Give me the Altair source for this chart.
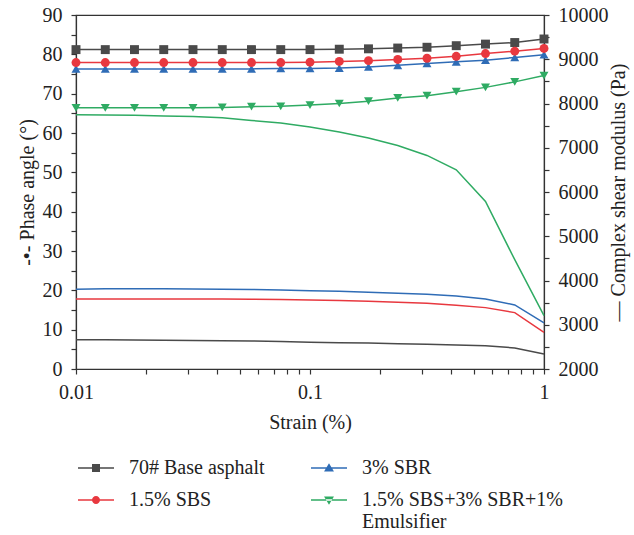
import altair as alt
import pandas as pd

# ---- data ----
strain = [0.01, 0.01334, 0.01778, 0.02371, 0.03162, 0.04217, 0.05623, 0.07499,
          0.1, 0.1334, 0.1778, 0.2371, 0.3162, 0.4217, 0.5623, 0.7499, 1.0]

series = ["70# Base asphalt", "3% SBR", "1.5% SBS", "1.5% SBS+3% SBR+1% Emulsifier"]
colors = ["#4a4a4a", "#2f6cb6", "#e8383f", "#2fab63"]

phase_base = [81.2, 81.2, 81.2, 81.2, 81.2, 81.2, 81.2, 81.2, 81.2,
              81.3, 81.4, 81.6, 81.8, 82.2, 82.6, 83.0, 83.9]
phase_sbs = [77.9, 77.9, 77.9, 77.9, 77.9, 77.9, 77.9, 77.9, 78.0,
             78.2, 78.4, 78.7, 79.0, 79.5, 80.2, 80.8, 81.5]
phase_sbr = [76.3, 76.3, 76.3, 76.3, 76.3, 76.3, 76.3, 76.4, 76.4,
             76.5, 76.8, 77.2, 77.7, 78.1, 78.5, 79.2, 79.9]
phase_mix = [66.4, 66.4, 66.4, 66.4, 66.4, 66.5, 66.7, 66.8, 67.1,
             67.5, 68.1, 68.9, 69.5, 70.5, 71.6, 73.0, 74.6]

mod_base = [2663, 2660, 2655, 2650, 2645, 2640, 2632, 2620, 2604,
            2595, 2585, 2572, 2560, 2545, 2527, 2475, 2340]
mod_sbs = [3584, 3584, 3584, 3584, 3584, 3580, 3575, 3568, 3561,
           3550, 3530, 3510, 3486, 3440, 3387, 3274, 2830]
mod_sbr = [3803, 3815, 3815, 3812, 3810, 3805, 3798, 3788, 3771,
           3755, 3735, 3712, 3690, 3650, 3584, 3448, 3041]
mod_mix = [7745, 7740, 7735, 7720, 7705, 7680, 7617, 7558, 7468,
           7355, 7219, 7052, 6826, 6502, 5785, 4470, 3206]

phase = {series[0]: phase_base, series[1]: phase_sbr, series[2]: phase_sbs, series[3]: phase_mix}
modulus = {series[0]: mod_base, series[1]: mod_sbr, series[2]: mod_sbs, series[3]: mod_mix}

rows = []
for s in series:
    for i, x in enumerate(strain):
        rows.append({"series": s, "strain": x, "phase": phase[s][i], "modulus": modulus[s][i]})
df = pd.DataFrame(rows)

FONT = "Liberation Serif"

# legend symbols: thin filled bar (the line) + filled marker
BAR = "M-1.25,-0.09H3.25V0.09H-1.25Z"
legend_shapes = [
    BAR + "M0.5,-0.5H1.5V0.5H0.5Z",
    BAR + "M1,-0.6L1.62,0.45L0.38,0.45Z",
    BAR + "M1.5,0A0.5,0.5,0,1,1,0.5,0A0.5,0.5,0,1,1,1.5,0Z",
    BAR + "M1,0.6L1.62,-0.45L0.38,-0.45Z",
]

legend = alt.Legend(
    title=None, orient="none", legendX=2, legendY=443, columns=2, direction="horizontal",
    columnPadding=46, rowPadding=12, padding=0,
    labelFont=FONT, labelFontSize=20, labelColor="#222", labelLimit=400,
    symbolSize=256, labelOffset=31, symbolOpacity=1, symbolStrokeWidth=0,
    labelExpr="datum.label === '1.5% SBS+3% SBR+1% Emulsifier' ? ['1.5% SBS+3% SBR+1%', 'Emulsifier'] : datum.label",
)

x_ticks = [0.01, 0.02, 0.03, 0.04, 0.05, 0.06, 0.07, 0.08, 0.09,
           0.1, 0.2, 0.3, 0.4, 0.5, 0.6, 0.7, 0.8, 0.9, 1.0]

x_enc = alt.X("strain:Q", scale=alt.Scale(type="log", domain=[0.01, 1], nice=False),
              axis=alt.Axis(title="Strain (%)", values=x_ticks, labelOverlap=False, labelFlush=False,
                            labelExpr="datum.value == 0.01 ? '0.01' : datum.value == 0.1 ? '0.1' : datum.value == 1 ? '1' : ''",
                            tickSize=5, labelPadding=8, titlePadding=10))

y_left = alt.Y("phase:Q", scale=alt.Scale(domain=[0, 90], nice=False),
               axis=alt.Axis(title="-•- Phase angle (°)", values=list(range(0, 95, 5)),
                             labelExpr="datum.value % 10 == 0 ? datum.label : ''",
                             tickSize=5, labelPadding=9, titlePadding=5))

y_right = alt.Y("modulus:Q", scale=alt.Scale(domain=[2000, 10000], nice=False),
                axis=alt.Axis(title="— Complex shear modulus (Pa)", orient="right",
                              values=list(range(2000, 10500, 500)), format="d",
                              labelExpr="datum.value % 1000 == 0 ? datum.label : ''",
                              tickSize=5, labelPadding=9, titlePadding=20, titleAngle=270))

def cscale():
    return alt.Scale(domain=series, range=colors)

base = alt.Chart(df)

phase_line = base.mark_line(strokeWidth=1.5).encode(
    x=x_enc, y=y_left, color=alt.Color("series:N", scale=cscale(), legend=None))

phase_pts = base.mark_point(filled=True, size=80, opacity=1).encode(
    x=x_enc, y=y_left,
    color=alt.Color("series:N", scale=cscale(), legend=None),
    shape=alt.Shape("series:N", scale=alt.Scale(domain=series,
                    range=["square", "triangle-up", "circle", "triangle-down"]), legend=None))

mod_line = base.mark_line(strokeWidth=1.5).encode(
    x=x_enc, y=y_right, color=alt.Color("series:N", scale=cscale(), legend=None))

# invisible layer that only carries the legend (line + marker symbols)
legend_layer = base.mark_point(filled=True, opacity=0).encode(
    x=x_enc, y=alt.Y("phase:Q", scale=alt.Scale(domain=[0, 90], nice=False), axis=None),
    color=alt.Color("series:N", scale=cscale(), legend=legend),
    shape=alt.Shape("series:N", scale=alt.Scale(domain=series, range=legend_shapes), legend=legend))

left = alt.layer(phase_line, phase_pts)
chart = alt.layer(left, mod_line, legend_layer).resolve_scale(
    y="independent", color="independent", shape="independent").properties(
    width=468, height=354,
    autosize=alt.AutoSizeParams(type="none"),
    padding={"left": 76, "top": 15, "right": 90, "bottom": 166},
).configure_view(stroke="#333", strokeWidth=1.2).configure_axis(
    grid=False, domainColor="#333", tickColor="#333", labelColor="#222", titleColor="#222",
    labelFont=FONT, titleFont=FONT, labelFontSize=20, titleFontSize=20, titleFontWeight="normal",
    domainWidth=1.2, tickWidth=1.2,
)

chart.save("out.html", embed_options={"renderer": "svg", "actions": False})
